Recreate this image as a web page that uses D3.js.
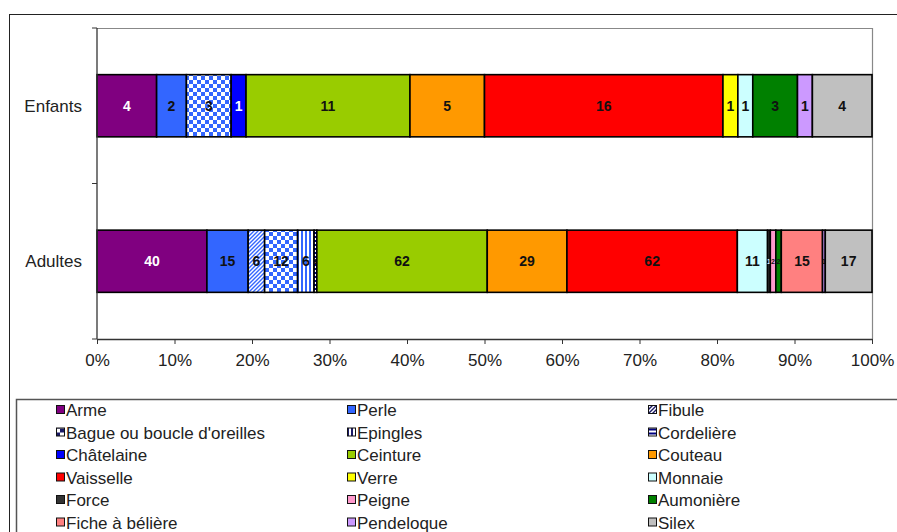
<!DOCTYPE html>
<html>
<head>
<meta charset="utf-8">
<script src="https://cdn.jsdelivr.net/npm/d3@7"></script>
<style>
  body { margin: 0; background: #fff; }
  svg { display: block; font-family: "Liberation Sans", Arial, sans-serif; }
</style>
</head>
<body>
<div id="chart"></div>
<script>
var categories = ["Enfants", "Adultes"];
var series = ["Arme", "Perle", "Fibule", "Bague ou boucle d'oreilles", "Epingles", "Cordelière",
              "Châtelaine", "Ceinture", "Couteau", "Vaisselle", "Verre", "Monnaie",
              "Force", "Peigne", "Aumonière", "Fiche à bélière", "Pendeloque", "Silex"];
var enfants = [4, 2, 0, 3, 0, 0, 1, 11, 5, 16, 1, 1, 0, 0, 3, 0, 1, 4];
var adultes = [40, 15, 6, 12, 6, 1, 0, 62, 29, 62, 0, 11, 1, 2, 2, 15, 1, 17];
var tickValues = [0, 0.1, 0.2, 0.3, 0.4, 0.5, 0.6, 0.7, 0.8, 0.9, 1];

// colours in series order (patterns are referenced by url)
var fills = ["#800080", "#3366ff", "url(#p-diag)", "url(#p-check)", "url(#p-vert)", "url(#p-horiz)",
             "#0000ff", "#99cc00", "#ff9900", "#ff0000", "#ffff00", "#ccffff",
             "#333333", "#ff99cc", "#008000", "#ff8080", "#cc99ff", "#c0c0c0"];
var legendFills = fills.map(function(f) { return f.indexOf("url") == 0 ? f.replace("#p-", "#l-") : f; });
var whiteLabels = ["Arme", "Châtelaine", "Force"];

var margin = {top: 28, left: 97},
    width = 775,
    height = 311;

var svg = d3.select("#chart").append("svg")
    .attr("width", 897)
    .attr("height", 532);

// patterns
var defs = svg.append("defs");
function makePatterns(prefix, col, bg) {
    var p = defs.append("pattern").attr("id", prefix + "diag").attr("patternUnits", "userSpaceOnUse")
        .attr("width", 4).attr("height", 4);
    p.append("rect").attr("width", 4).attr("height", 4).attr("fill", bg);
    p.append("path").attr("d", "M-1,1 l2,-2 M0,4 l4,-4 M3,5 l2,-2").attr("stroke", col).attr("stroke-width", 1.4);

    p = defs.append("pattern").attr("id", prefix + "check").attr("patternUnits", "userSpaceOnUse")
        .attr("width", 8).attr("height", 8);
    p.append("rect").attr("width", 8).attr("height", 8).attr("fill", bg);
    p.append("rect").attr("width", 4).attr("height", 4).attr("fill", col);
    p.append("rect").attr("x", 4).attr("y", 4).attr("width", 4).attr("height", 4).attr("fill", col);

    p = defs.append("pattern").attr("id", prefix + "vert").attr("patternUnits", "userSpaceOnUse")
        .attr("width", 4).attr("height", 4);
    p.append("rect").attr("width", 4).attr("height", 4).attr("fill", bg);
    p.append("rect").attr("width", 2).attr("height", 4).attr("fill", col);

    p = defs.append("pattern").attr("id", prefix + "horiz").attr("patternUnits", "userSpaceOnUse")
        .attr("width", 4).attr("height", 4);
    p.append("rect").attr("width", 4).attr("height", 4).attr("fill", bg);
    p.append("rect").attr("width", 4).attr("height", 2).attr("fill", "#000080");
}
makePatterns("p-", "#3366ff", "#fff");
makePatterns("l-", "#1a1a66", "#fff");

// outer chart border
svg.append("rect").attr("x", 9.5).attr("y", 14.5).attr("width", 960).attr("height", 600)
    .attr("fill", "none").attr("stroke", "#222").attr("stroke-width", 1);

var g = svg.append("g").attr("transform", "translate(" + margin.left + "," + margin.top + ")");

var rows = categories.map(function(c, i) {
    var vals = [enfants, adultes][i];
    var o = {cat: c};
    series.forEach(function(s, j) { o[s] = vals[j]; });
    return o;
});
var stacked = d3.stack().keys(series).offset(d3.stackOffsetExpand)(rows);

var xScale = d3.scaleLinear().domain([0, 1]).range([0, width]);
var yScale = d3.scaleBand().domain(categories).range([0, height])
    .paddingInner(0.6).paddingOuter(0.3);

// plot area frame (top and right)
g.append("path").attr("d", "M0,0.5H" + (width + 0.5) + "V" + height)
    .attr("fill", "none").attr("stroke", "#888").attr("stroke-width", 1.2);

var layers = g.selectAll("g.layer").data(stacked).join("g")
    .attr("class", "layer")
    .attr("fill", function(d, i) { return fills[i]; });

layers.selectAll("rect").data(function(d) { return d.filter(function(s) { return s[1] - s[0] > 0; }); })
    .join("rect")
    .attr("x", function(d) { return xScale(d[0]); })
    .attr("y", function(d) { return yScale(d.data.cat); })
    .attr("width", function(d) { return xScale(d[1]) - xScale(d[0]); })
    .attr("height", yScale.bandwidth())
    .attr("stroke", "#000")
    .attr("stroke-width", 1.6);

// data labels (very thin segments get a smaller label)
layers.each(function(layer) {
    var key = layer.key;
    d3.select(this).selectAll("text").data(layer.filter(function(s) { return s.data[key] > 0; }))
        .join("text")
        .attr("x", function(d) { return xScale((d[0] + d[1]) / 2); })
        .attr("y", function(d) { return yScale(d.data.cat) + yScale.bandwidth() / 2; })
        .attr("dy", "0.36em")
        .attr("text-anchor", "middle")
        .attr("font-size", function(d) { return xScale(d[1]) - xScale(d[0]) < 6 ? 7 : 14; })
        .attr("font-weight", "bold")
        .attr("fill", whiteLabels.indexOf(key) >= 0 ? "#fff" : "#111")
        .text(function(d) { return d.data[key]; });
});

// x axis
var xAxis = g.append("g")
    .attr("transform", "translate(0," + height + ")")
    .call(d3.axisBottom(xScale).tickValues(tickValues).tickFormat(d3.format(".0%"))
        .tickSize(5).tickSizeOuter(0).tickPadding(10));
xAxis.select(".domain").attr("stroke", "#333").attr("stroke-width", 1.3);
xAxis.selectAll(".tick line").attr("stroke", "#333");
xAxis.selectAll("text").attr("font-size", 17).attr("fill", "#222")
    .attr("font-family", "\"Liberation Sans\", Arial, sans-serif");

// y axis
var yAxis = g.append("g");
yAxis.append("line").attr("x1", 0).attr("x2", 0).attr("y1", 0).attr("y2", height)
    .attr("stroke", "#333").attr("stroke-width", 1.3);
yAxis.selectAll("line.tk").data(d3.range(categories.length + 1)).join("line")
    .attr("class", "tk")
    .attr("x1", -5).attr("x2", 0)
    .attr("y1", function(i) { return i * yScale.step(); })
    .attr("y2", function(i) { return i * yScale.step(); })
    .attr("stroke", "#333");
yAxis.selectAll("text").data(categories).join("text")
    .attr("x", -15)
    .attr("y", function(d) { return yScale(d) + yScale.bandwidth() / 2; })
    .attr("dy", "0.36em")
    .attr("text-anchor", "end")
    .attr("font-size", 17)
    .attr("fill", "#222")
    .text(function(d) { return d; });

// legend
svg.append("rect").attr("x", 16.5).attr("y", 399.5).attr("width", 960).attr("height", 200)
    .attr("fill", "#fff").attr("stroke", "#555").attr("stroke-width", 1.5);

var colX = [56, 347, 648],
    rowY0 = 410,
    rowStep = 22.5;
var items = svg.append("g").selectAll("g").data(series).join("g")
    .attr("transform", function(d, i) {
        return "translate(" + colX[i % 3] + "," + (rowY0 + Math.floor(i / 3) * rowStep) + ")";
    });
items.append("rect")
    .attr("x", 0.5).attr("y", -4.5).attr("width", 8).attr("height", 8)
    .attr("fill", function(d, i) { return legendFills[i]; })
    .attr("stroke", "#111").attr("stroke-width", 1);
items.append("text")
    .attr("x", 10).attr("dy", "0.36em")
    .attr("font-size", 17)
    .attr("fill", "#222")
    .text(function(d) { return d; });
</script>
</body>
</html>
